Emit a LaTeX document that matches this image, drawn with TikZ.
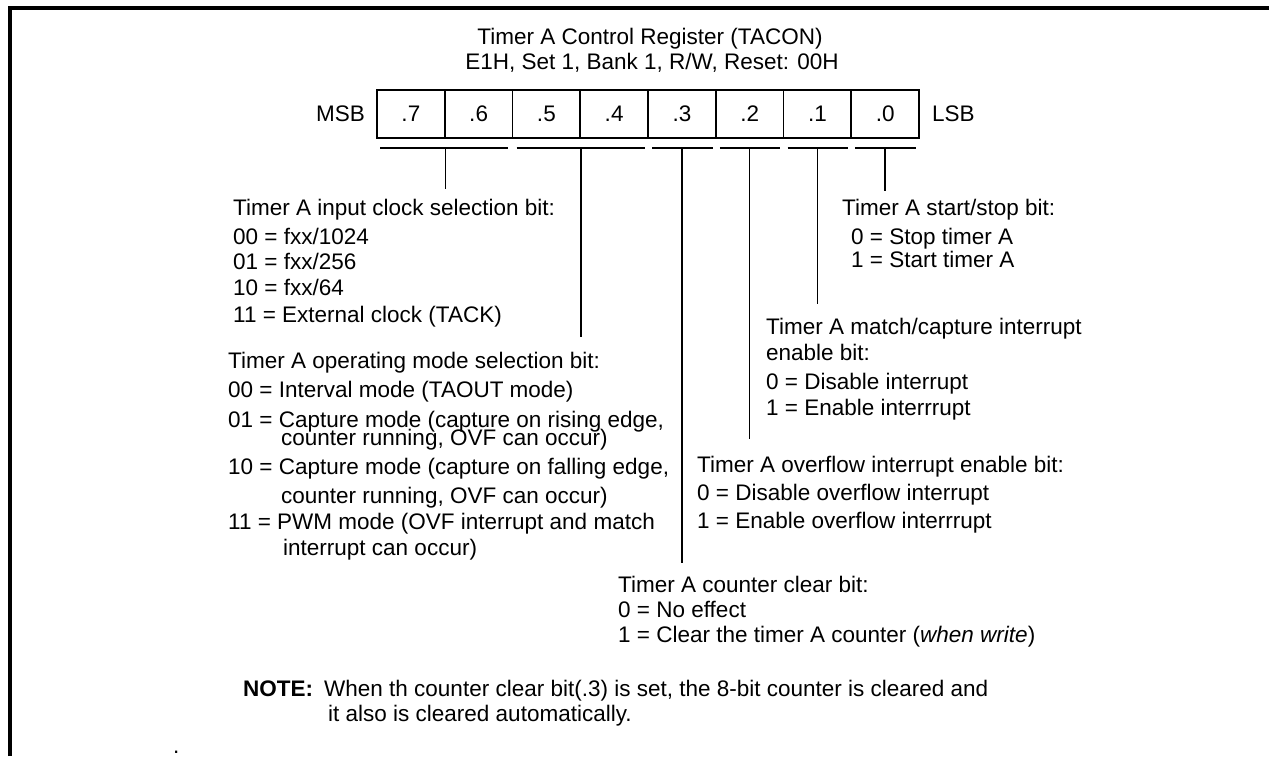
\documentclass[tikz,border=0pt]{standalone}
\usepackage{fontspec}
\setmainfont{Liberation Sans}
\usetikzlibrary{calc}
\begin{document}
\begin{tikzpicture}[x=1pt,y=-1pt,
  fnt/.style={font=\fontsize{22.5}{26}\selectfont},
  txt/.style={fnt, anchor=base west, inner sep=0pt},
  cell/.style={fnt, draw, line width=1.6pt, minimum width=67.75pt, minimum height=48pt, inner sep=0pt},
  uline/.style={line width=2pt},
  drop/.style={line width=1.5pt},
  frame/.style={line width=3.2pt}]
\useasboundingbox (0,0) rectangle (1269,756);
% frame
\coordinate (fbl) at (10,756);
\coordinate (ftl) at (10,8);
\coordinate (ftr) at (1269,8);
\draw[frame] (fbl) -- (ftl) -- (ftr);
% titles
\node[fnt, anchor=base, inner sep=0pt] (t1) at (650,44) {Timer A Control Register (TACON)};
\node[fnt, anchor=base, inner sep=0pt] (t2) at (652,69) {E1H, Set 1, Bank 1, R/W, Reset: 00H};
% register cells
\foreach \b in {7,6,5,4,3,2,1,0} {
  \node[cell] (b\b) at ({377+67.75*(7-\b)+33.875},114) {.\b};
}
\node[fnt, anchor=east, inner sep=0pt] (msb) at (365,114) {MSB};
\node[fnt, anchor=west, inner sep=0pt] (lsb) at (932,114) {LSB};
% underlines
\draw[uline] ($(b7.south west)+(4,9)$) -- ($(b6.south east)+(-5,9)$);
\draw[uline] ($(b5.south west)+(5,9)$) -- ($(b4.south east)+(-4,9)$);
\foreach \b in {3,2,1,0} {
  \draw[uline] ($(b\b.south west)+(5,9)$) -- ($(b\b.south east)+(-4,9)$);
}
% drop lines
\coordinate (e76) at ($(b7.south east)+(0,50)$);
\coordinate (e54) at ($(b5.south east)+(0,198)$);
\coordinate (e3) at ($(b3.south)+(0,424)$);
\coordinate (e2) at ($(b2.south)+(0,300)$);
\coordinate (e1) at ($(b1.south)+(0,165)$);
\coordinate (e0) at ($(b0.south)+(0,52)$);
\draw[drop] ($(b7.south east)+(0,9)$) -- (e76);
\draw[drop] ($(b5.south east)+(0,9)$) -- (e54);
\draw[drop] ($(b3.south)+(0,9)$) -- (e3);
\draw[drop] ($(b2.south)+(0,9)$) -- (e2);
\draw[drop] ($(b1.south)+(0,9)$) -- (e1);
\draw[drop] ($(b0.south)+(0,9)$) -- (e0);
% input clock selection
\node[txt] (c0) at (233,215) {Timer A input clock selection bit:};
\node[txt] (c1) at (233,244) {00 = fxx/1024};
\node[txt] (c2) at (233,269) {01 = fxx/256};
\node[txt] (c3) at (233,295) {10 = fxx/64};
\node[txt] (c4) at (233,322) {11 = External clock (TACK)};
% operating mode
\node[txt] (m0) at (228,368) {Timer A operating mode selection bit:};
\node[txt] (m1) at (228,397) {00 = Interval mode (TAOUT mode)};
\node[txt] (m2) at (228,427) {01 = Capture mode (capture on rising edge,};
\node[txt] (m2b) at (281,445) {counter running, OVF can occur)};
\node[txt] (m3) at (228,474) {10 = Capture mode (capture on falling edge,};
\node[txt] (m3b) at (281,503) {counter running, OVF can occur)};
\node[txt] (m4) at (228,529) {11 = PWM mode (OVF interrupt and match};
\node[txt] (m4b) at (283,555) {interrupt can occur)};
% start/stop
\node[txt] (s0) at (842,215) {Timer A start/stop bit:};
\node[txt] (s1) at (851,244) {0 = Stop timer A};
\node[txt] (s2) at (851,267) {1 = Start timer A};
% match/capture
\node[txt] (i0) at (766,334) {Timer A match/capture interrupt};
\node[txt] (i1) at (766,360) {enable bit:};
\node[txt] (i2) at (766,389) {0 = Disable interrupt};
\node[txt] (i3) at (766,415) {1 = Enable interrrupt};
% overflow
\node[txt] (o0) at (697,472) {Timer A overflow interrupt enable bit:};
\node[txt] (o1) at (697,500) {0 = Disable overflow interrupt};
\node[txt] (o2) at (697,528) {1 = Enable overflow interrrupt};
% counter clear
\node[txt] (k0) at (618,592) {Timer A counter clear bit:};
\node[txt] (k1) at (618,617) {0 = No effect};
\node[txt] (k2) at (618,642) {1 = Clear the timer A counter (\textit{when write})};
% note
\node[txt] (n0) at (243,696) {\textbf{NOTE:}};
\node[txt] (n1) at (324,696) {When th counter clear bit(.3) is set, the 8-bit counter is cleared and};
\node[txt] (n2) at (328,721) {it also is cleared automatically.};
\node[txt] (dot) at (173,753) {.};
\end{tikzpicture}
\end{document}
